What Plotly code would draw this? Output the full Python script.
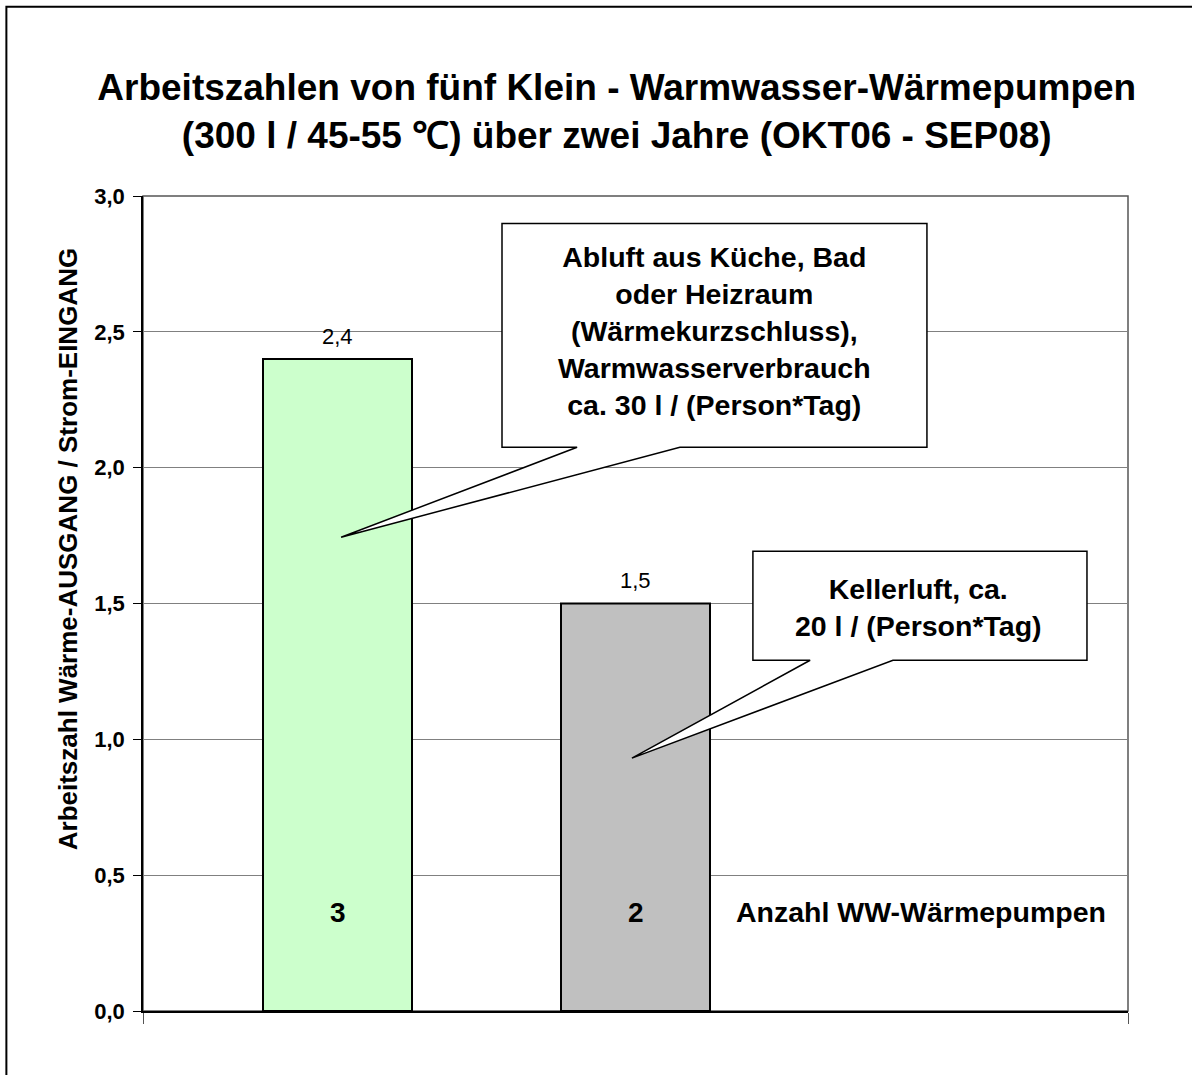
import plotly.graph_objects as go

# ---- data ----
categories = ["Abluft aus Küche, Bad oder Heizraum", "Kellerluft"]
arbeitszahl = [2.4, 1.5]
anzahl_wp = [3, 2]
bar_colors = ["#CCFFCC", "#C0C0C0"]
y_ticks = [0.0, 0.5, 1.0, 1.5, 2.0, 2.5, 3.0]
y_tick_labels = ["0,0", "0,5", "1,0", "1,5", "2,0", "2,5", "3,0"]

title_text = ("Arbeitszahlen von fünf Klein - Warmwasser-Wärmepumpen<br>"
              "(300 l / 45-55 ℃) über zwei Jahre (OKT06 - SEP08)")
y_title = "Arbeitszahl Wärme-AUSGANG / Strom-EINGANG"
count_label = "Anzahl WW-Wärmepumpen"

callout1_text = ("Abluft aus Küche, Bad<br>oder Heizraum<br>(Wärmekurzschluss),<br>"
                 "Warmwasserverbrauch<br>ca. 30 l / (Person*Tag)")
callout2_text = "Kellerluft, ca.<br>20 l / (Person*Tag)"

FONT = "Liberation Sans, Arial, sans-serif"
xpos = list(range(len(categories)))
x_range = [-0.6527, 2.6527]

def bold(size):
    return dict(family=FONT, size=size, color="black", weight="bold")

fig = go.Figure()
fig.add_trace(go.Bar(
    x=xpos, y=arbeitszahl, width=0.5,
    marker=dict(color=bar_colors, line=dict(color="black", width=2)),
    hoverinfo="skip", showlegend=False,
))

# value labels above bars
for xi, v in zip(xpos, arbeitszahl):
    fig.add_annotation(x=xi, y=v, text=f"{v:.1f}".replace(".", ","), showarrow=False,
                       yshift=23, font=dict(family=FONT, size=22, color="black"))
# counts inside bars
for xi, n in zip(xpos, anzahl_wp):
    fig.add_annotation(x=xi, y=0.364, text=str(n), showarrow=False, font=bold(28))
fig.add_annotation(x=1.958, y=0.364, text=count_label, showarrow=False, font=bold(28.5))

# callouts (box + wedge pointer)
def callout(L, R, T, B, b1, b2, tip):
    return (f"M {L} {T} L {R} {T} L {R} {B} L {b2} {B} L {tip[0]} {tip[1]} "
            f"L {b1} {B} L {L} {B} Z")

fig.add_shape(type="path", xref="x", yref="y",
              path=callout(0.552, 1.978, 2.899, 2.075, 0.804, 1.149, (0.012, 1.744)),
              fillcolor="white", line=dict(color="black", width=1.5), layer="above")
fig.add_annotation(x=1.265, y=2.502, text=callout1_text, showarrow=False, font=bold(28.5))

fig.add_shape(type="path", xref="x", yref="y",
              path=callout(1.394, 2.515, 1.692, 1.291, 1.586, 1.864, (0.988, 0.931)),
              fillcolor="white", line=dict(color="black", width=1.5), layer="above")
fig.add_annotation(x=1.948, y=1.484, text=callout2_text, showarrow=False, font=bold(28.5))

# y axis title as annotation
fig.add_annotation(xref="paper", yref="paper", x=-0.0766, y=0.566, text=y_title,
                   textangle=-90, showarrow=False, xanchor="center", yanchor="middle",
                   font=bold(26))

# plot-area border
fig.add_shape(type="rect", xref="paper", yref="paper", x0=0, x1=1, y0=0, y1=1,
              line=dict(color="#555555", width=1.5), layer="below")
# outer chart frame (partially cropped)
fig.add_shape(type="rect", xref="paper", yref="paper", x0=-0.1387, x1=1.3, y0=-0.3, y1=1.2323,
              line=dict(color="black", width=2), layer="below")

fig.update_layout(
    width=1192, height=1075,
    margin=dict(l=143, r=64, t=195.5, b=64),
    paper_bgcolor="white", plot_bgcolor="white",
    title=dict(text=title_text, x=0.481, xref="paper", xanchor="center",
               y=0.907, yanchor="middle", font=bold(37)),
    xaxis=dict(range=x_range, showgrid=False, zeroline=False, showticklabels=False,
               tickmode="array", tickvals=[x_range[0], x_range[1]], ticks="outside",
               ticklen=11, tickcolor="#555555", showline=True, linecolor="black", linewidth=2),
    yaxis=dict(range=[0, 3.0], tickmode="array", tickvals=y_ticks, ticktext=y_tick_labels,
               ticks="outside", ticklen=8, tickcolor="black", showline=True,
               linecolor="black", linewidth=1.5, showgrid=True, gridcolor="#808080",
               gridwidth=1, zeroline=False, ticklabelstandoff=4,
               tickfont=bold(22)),
    font=dict(family=FONT),
)

fig.write_html("out.html", config={"displayModeBar": False},
               post_script="document.body.style.margin='0';")
